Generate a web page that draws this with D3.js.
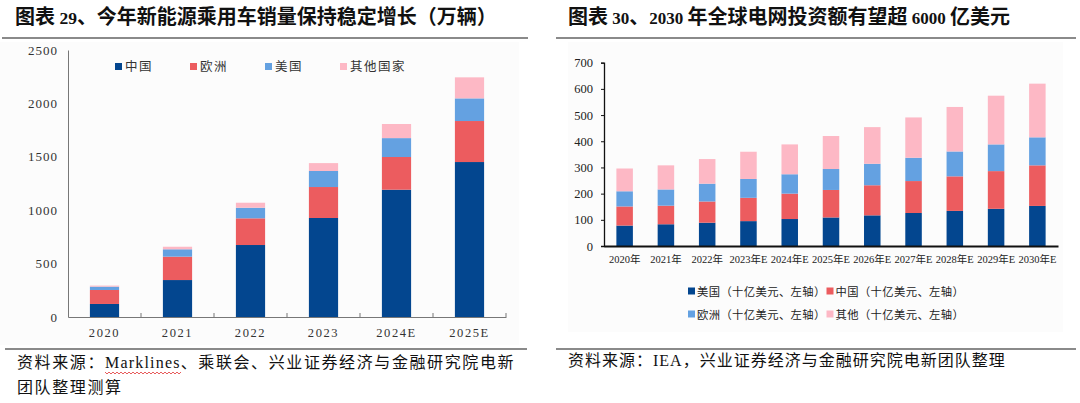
<!DOCTYPE html>
<html><head><meta charset="utf-8">
<script src="https://cdn.jsdelivr.net/npm/d3@7"></script>
<style>
html,body{margin:0;padding:0;background:#fff;}
svg{display:block;}
</style></head>
<body>
<svg id="c" width="1080" height="403"></svg>
<script>
// ---- Left chart data (万辆) ----
const leftYears = ["2020","2021","2022","2023","2024E","2025E"];
const leftSeries = ["中国","欧洲","美国","其他国家"];
const leftChina = [122, 346, 674, 927, 1192, 1451];
const leftEurope = [131, 219, 250, 290, 306, 384];
const leftUS = [31, 69, 99, 150, 177, 212];
const leftOther = [10, 24, 47, 74, 132, 197];
const leftTicks = [0, 500, 1000, 1500, 2000, 2500];

// ---- Right chart data (十亿美元) ----
const rightYears = ["2020年","2021年","2022年","2023年E","2024年E","2025年E","2026年E","2027年E","2028年E","2029年E","2030年E"];
const rightSeries = ["美国（十亿美元、左轴）","中国（十亿美元、左轴）","欧洲（十亿美元、左轴）","其他（十亿美元、左轴）"];
const rightUS = [78, 83, 89, 95, 103, 109, 117, 126, 134, 142, 153];
const rightChina = [73, 71, 81, 89, 97, 105, 115, 122, 132, 144, 155];
const rightEurope = [58, 62, 68, 72, 74, 80, 82, 89, 95, 102, 107];
const rightOther = [87, 92, 94, 104, 114, 126, 140, 154, 170, 186, 205];
const rightTicks = [0, 100, 200, 300, 400, 500, 600, 700];

const cBlue = "#03468f", cRed = "#ec5c5f", cLight = "#64a1e1", cPink = "#fdb8c5";
const serif = "'Liberation Serif','Noto Sans CJK SC',serif";
const svg = d3.select("#c");

// backgrounds
svg.append("rect").attr("x",0).attr("y",42).attr("width",519).attr("height",303).attr("fill","#fcfcfc");
svg.append("rect").attr("x",568).attr("y",42).attr("width",495).attr("height",290).attr("fill","#fcfcfc");

// titles: CJK at 20px, Latin digits slightly smaller
function title(x, parts){
  const t = svg.append("text").attr("x",x).attr("y",24).attr("font-family",serif).attr("font-weight","bold")
    .attr("font-size",20).attr("fill","#111");
  parts.forEach(p=>{
    const s = t.append("tspan").text(p[0]);
    if (p[1]) s.attr("font-size",p[1]);
  });
}
title(15, [["图表"],[" 29",17.5],["、今年新能源乘用车销量保持稳定增长（万辆）"]]);
title(568, [["图表"],[" 30",17],["、"],["2030 ",17],["年全球电网投资额有望超"],[" 6000 ",17],["亿美元"]]);

// title underlines / footer lines
[[2,528,38],[556,1076,38],[5,527,349],[556,1076,349]].forEach(l=>{
  svg.append("line").attr("x1",l[0]).attr("x2",l[1]).attr("y1",l[2]).attr("y2",l[2])
    .attr("stroke","#8a8a8a").attr("stroke-width",2.2);
});

// ---- Left chart ----
{
  const x = d3.scaleBand().domain(leftYears).range([68,506]).paddingInner(0).paddingOuter(0);
  const y = d3.scaleLinear().domain([0,2500]).range([317,50]);
  const g = svg.append("g");
  const rows = leftYears.map((yr,i)=>({year:yr,"中国":leftChina[i],"欧洲":leftEurope[i],"美国":leftUS[i],"其他国家":leftOther[i]}));
  const stack = d3.stack().keys(leftSeries)(rows);
  const colors = [cBlue,cRed,cLight,cPink];
  const bw = x.bandwidth()*0.4;
  stack.forEach((s,si)=>{
    g.selectAll(null).data(s).enter().append("rect")
      .attr("x",d=>x(d.data.year)+x.bandwidth()/2-bw/2)
      .attr("width",bw)
      .attr("y",d=>y(d[1]))
      .attr("height",d=>y(d[0])-y(d[1]))
      .attr("fill",colors[si]);
  });
  const ya = g.append("g").attr("transform","translate(68,0)")
    .call(d3.axisLeft(y).tickValues(leftTicks).tickFormat(d3.format("d")).tickSize(0).tickPadding(10));
  ya.select(".domain").attr("stroke","#777");
  ya.selectAll("text").attr("font-family",serif).attr("font-size",13).attr("fill","#333").attr("letter-spacing",1);
  const xa = g.append("g").attr("transform","translate(0,317)")
    .call(d3.axisBottom(x).tickSize(0).tickPadding(11));
  xa.select(".domain").attr("stroke","#777");
  xa.selectAll("text").attr("font-family",serif).attr("font-size",12.5).attr("fill","#333").attr("letter-spacing",1.6);
  const bounds = leftYears.map(d=>x(d)).concat([x.range()[1]]).slice(1);
  g.selectAll(null).data(bounds).enter().append("line")
    .attr("x1",d=>d).attr("x2",d=>d).attr("y1",317).attr("y2",313).attr("stroke","#777");
  const lg = g.append("g");
  leftSeries.forEach((s,i)=>{
    const lx = 115 + i*75;
    lg.append("rect").attr("x",lx).attr("y",63).attr("width",7).attr("height",7).attr("fill",colors[i]);
    lg.append("text").attr("x",lx+10).attr("y",71).attr("font-family",serif).attr("font-size",12.5)
      .attr("letter-spacing",1.5).attr("fill","#333").text(s);
  });
}

// ---- Right chart ----
{
  const x = d3.scaleBand().domain(rightYears).range([604,1058]);
  const y = d3.scaleLinear().domain([0,700]).range([246,62.7]);
  const g = svg.append("g");
  const keys = ["美国","中国","欧洲","其他"];
  const rows = rightYears.map((yr,i)=>({year:yr,"美国":rightUS[i],"中国":rightChina[i],"欧洲":rightEurope[i],"其他":rightOther[i]}));
  const stack = d3.stack().keys(keys)(rows);
  const colors = [cBlue,cRed,cLight,cPink];
  const bw = x.bandwidth()*0.4;
  stack.forEach((s,si)=>{
    g.selectAll(null).data(s).enter().append("rect")
      .attr("x",d=>x(d.data.year)+x.bandwidth()/2-bw/2)
      .attr("width",bw)
      .attr("y",d=>y(d[1]))
      .attr("height",d=>y(d[0])-y(d[1]))
      .attr("fill",colors[si]);
  });
  const ya = g.append("g").attr("transform","translate(604,0)")
    .call(d3.axisLeft(y).tickValues(rightTicks).tickSize(3).tickPadding(8));
  ya.select(".domain").attr("stroke","#111").attr("stroke-width",1.3);
  ya.selectAll(".tick line").attr("stroke","#111");
  ya.selectAll("text").attr("font-family",serif).attr("font-size",12.5).attr("fill","#222");
  const xa = g.append("g").attr("transform","translate(0,246)")
    .call(d3.axisBottom(x).tickSize(0).tickPadding(10));
  xa.select(".domain").attr("stroke","#111").attr("stroke-width",2);
  xa.selectAll("text").attr("font-family",serif).attr("font-size",10.5).attr("fill","#222");
  rightSeries.forEach((s,i)=>{
    const lx = 688 + (i%2)*138.5;
    const ly = i<2 ? 291 : 314;
    g.append("rect").attr("x",lx).attr("y",ly-3.5).attr("width",7).attr("height",7).attr("fill",colors[i]);
    g.append("text").attr("x",lx+9).attr("y",ly+4.5).attr("font-family",serif).attr("font-size",11.3)
      .attr("letter-spacing",0.4).attr("fill","#222").text(s);
  });
}

// ---- Footers ----
const fs = 16;
const f1 = svg.append("text").attr("x",17).attr("y",368).attr("font-family",serif).attr("font-size",fs)
  .attr("letter-spacing",1.6).attr("fill","#111");
f1.append("tspan").text("资料来源：");
f1.append("tspan").attr("id","mk").attr("letter-spacing",1.2).text("Marklines");
f1.append("tspan").attr("letter-spacing",1.6).text("、乘联会、兴业证券经济与金融研究院电新");
svg.append("text").attr("x",17).attr("y",393).attr("font-family",serif).attr("font-size",fs)
  .attr("letter-spacing",1.6).attr("fill","#111").text("团队整理测算");
svg.append("text").attr("x",568).attr("y",366).attr("font-family",serif).attr("font-size",fs)
  .attr("letter-spacing",1.0).attr("fill","#111").text("资料来源：IEA，兴业证券经济与金融研究院电新团队整理");
{
  const el = document.getElementById("mk");
  const x0 = el.getStartPositionOfChar(0).x;
  const x1 = el.getEndPositionOfChar(el.getNumberOfChars()-1).x;
  let p = "M"+x0+",372";
  for (let xx=x0, k=0; xx<x1; xx+=2, k++) p += " L"+(xx+2)+","+(k%2? 372:374);
  svg.append("path").attr("d",p).attr("fill","none").attr("stroke","#e03030").attr("stroke-width",0.8);
}
</script>
</body></html>
